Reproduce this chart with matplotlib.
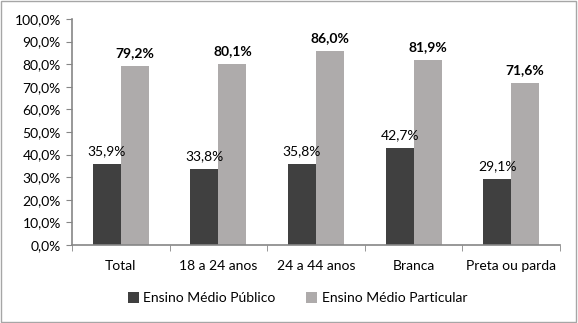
import numpy as np
import matplotlib
matplotlib.use("Agg")
import matplotlib.pyplot as plt
from matplotlib.patches import Rectangle

plt.rcParams['font.family'] = ['Lato', 'DejaVu Sans']

categories = ["Total", "18 a 24 anos", "24 a 44 anos", "Branca", "Preta ou parda"]
publico = [35.9, 33.8, 35.8, 42.7, 29.1]
particular = [79.2, 80.1, 86.0, 81.9, 71.6]
series_names = ["Ensino Médio Público", "Ensino Médio Particular"]

dark = "#404040"
light = "#aeabab"
fs = 10

fig = plt.figure(figsize=(5.78, 3.23), dpi=100)
ax = fig.add_axes([72/578, 1-245/323, (560-72)/578, (245-19)/323])

x = np.arange(len(categories))
w = 0.287
b1 = ax.bar(x - w/2, publico, w, color=dark, label=series_names[0])
b2 = ax.bar(x + w/2, particular, w, color=light, label=series_names[1])

def fmt(v):
    return f"{v:.1f}%".replace(".", ",")

for r, v in zip(b1, publico):
    ax.annotate(fmt(v), (r.get_x() + r.get_width()/2, v), xytext=(0, 5),
                textcoords="offset points", ha="center", va="bottom", fontsize=fs)
for r, v in zip(b2, particular):
    ax.annotate(fmt(v), (r.get_x() + r.get_width()/2, v), xytext=(0, 5),
                textcoords="offset points", ha="center", va="bottom", fontsize=fs,
                fontweight="bold")

ax.set_xlim(-0.5, len(categories) - 0.5)
ax.set_ylim(0, 100)
ax.set_yticks(np.arange(0, 101, 10))
ax.set_yticklabels([fmt(t) for t in np.arange(0, 101, 10)], fontsize=fs)
ax.set_xticks(x)
ax.set_xticklabels(categories, fontsize=fs)
ax.set_xticks(np.arange(-0.5, len(categories), 1), minor=True)
ax.tick_params(axis="x", which="major", length=0, pad=11)
ax.tick_params(axis="x", which="minor", length=4, color="#868686", direction="out")
ax.tick_params(axis="y", length=4, color="#868686", pad=4)

for s in ["top", "right"]:
    ax.spines[s].set_visible(False)
for s in ["left", "bottom"]:
    ax.spines[s].set_color("#868686")
    ax.spines[s].set_linewidth(1.2)

leg = fig.legend(handles=[b1, b2], loc="center", bbox_to_anchor=(0.515, 1-298/323),
                 ncol=2, frameon=False, fontsize=fs, handlelength=0.8, handleheight=0.8,
                 handletextpad=0.3, columnspacing=2.2)

fig.patches.append(Rectangle((0.002, 0.003), 0.995, 0.993, transform=fig.transFigure,
                             fill=False, edgecolor="#a6a6a6", linewidth=1))

fig.savefig("out.png", dpi=100)
